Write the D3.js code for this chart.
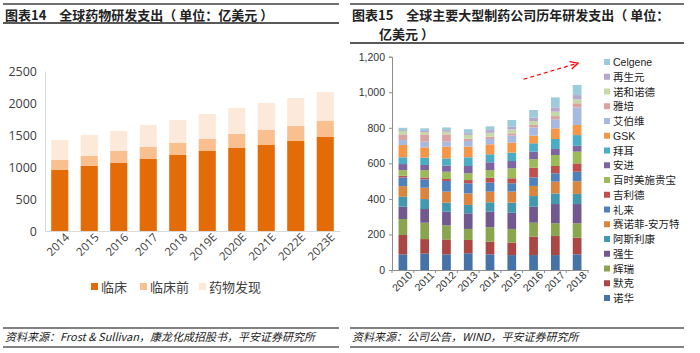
<!DOCTYPE html>
<html lang="zh">
<head>
<meta charset="UTF-8">
<title>全球药物研发支出</title>
<script src="https://d3js.org/d3.v7.min.js"></script>
<style>
  body { margin: 0; background: #fff; }
  svg { display: block; font-family: "Liberation Sans", Arial, "Noto Sans CJK SC", sans-serif; }
</style>
</head>
<body>
<div id="chart"></div>
<script>
// ---- left chart data (亿美元)
const yearsL = ["2014", "2015", "2016", "2017", "2018", "2019E", "2020E", "2021E", "2022E", "2023E"];
const seriesL = ["临床", "临床前", "药物发现"];
const clinical   = [953, 1016, 1063, 1125, 1188, 1250, 1297, 1344, 1406, 1469];
const preclinical = [156, 156, 187, 188, 187, 188, 219, 234, 235, 250];
const discovery  = [313, 328, 312, 343, 359, 390, 406, 422, 437, 453];
const ticksL = [0, 500, 1000, 1500, 2000, 2500];
const colorsL = ["#e36c09", "#f9bf8f", "#fde9d9"];

// ---- right chart data (亿美元), bottom of stack first
const yearsR = ["2010", "2011", "2012", "2013", "2014", "2015", "2016", "2017", "2018"];
const companies = ["诺华", "默克", "辉瑞", "强生", "阿斯利康", "赛诺菲-安万特", "礼来", "吉利德",
  "百时美施贵宝", "安进", "拜耳", "GSK", "艾伯维", "雅培", "诺和诺德", "再生元", "Celgene"];
const novartis  = [88, 92, 88, 94, 88, 84, 84, 84, 88];
const merck     = [109, 82, 84, 75, 71, 70, 104, 107, 94];
const pfizer    = [90, 92, 79, 62, 81, 77, 78, 72, 81];
const jnj       = [69, 77, 77, 88, 88, 91, 90, 108, 108];
const astra     = [56, 56, 51, 47, 53, 57, 60, 60, 57];
const sanofi    = [60, 64, 62, 65, 60, 62, 57, 66, 71];
const lilly     = [49, 47, 60, 57, 50, 47, 48, 47, 54];
const gilead    = [9, 11, 11, 18, 28, 28, 55, 41, 47];
const bms       = [32, 41, 41, 38, 43, 56, 48, 62, 66];
const amgen     = [34, 29, 34, 41, 44, 41, 42, 34, 33];
const bayer     = [38, 41, 41, 49, 45, 47, 47, 56, 60];
const gsk       = [69, 58, 66, 60, 56, 56, 43, 60, 57];
const abbvie    = [28, 32, 28, 32, 30, 40, 46, 51, 99];
const abbott    = [32, 41, 41, 13, 13, 13, 14, 18, 23];
const novo      = [19, 13, 15, 21, 22, 22, 22, 25, 22];
const regeneron = [5, 6, 9, 10, 15, 15, 19, 24, 24];
const celgene   = [13, 15, 15, 22, 21, 38, 43, 56, 57];
const seriesR = [novartis, merck, pfizer, jnj, astra, sanofi, lilly, gilead, bms, amgen,
  bayer, gsk, abbvie, abbott, novo, regeneron, celgene];
const ticksR = [0, 200, 400, 600, 800, 1000, 1200];
const colorsR = ["#4572a7", "#aa4643", "#89a54e", "#71588f", "#4198af", "#db843d",
  "#4f81bd", "#c0504d", "#9bbb59", "#8064a2", "#4bacc6", "#f79646",
  "#a7b9e0", "#d9a3a1", "#c5d9a8", "#b6a8cc", "#9ccbda"];

const svg = d3.select("#chart").append("svg").attr("width", 700).attr("height", 353);

// ---- frame: titles and source lines
function frame(x0, x1, titleLines, yBottom, source) {
  svg.append("line").attr("x1", x0).attr("x2", x1).attr("y1", 4).attr("y2", 4)
    .attr("stroke", "#404040").attr("stroke-width", 1.5);
  titleLines.forEach((t, i) => {
    svg.append("text").attr("x", t.x).attr("y", 19.5 + i * 19)
      .attr("font-size", 13).attr("font-weight", "bold").attr("fill", "#222")
      .attr("font-family", "'Noto Sans CJK SC', sans-serif")
      .text(t.s);
  });
  svg.append("line").attr("x1", x0).attr("x2", x1).attr("y1", yBottom).attr("y2", yBottom)
    .attr("stroke", "#595959").attr("stroke-width", 2);
  svg.append("line").attr("x1", x0).attr("x2", x1).attr("y1", 328).attr("y2", 328)
    .attr("stroke", "#595959").attr("stroke-width", 1.5);
  svg.append("text").attr("x", x0 + 2).attr("y", 341)
    .attr("font-size", 11).attr("font-style", "italic").attr("fill", "#222")
    .attr("font-family", "'Liberation Sans Narrow', 'Noto Sans CJK SC', sans-serif")
    .text(source);
  svg.append("line").attr("x1", x0).attr("x2", x1).attr("y1", 347).attr("y2", 347)
    .attr("stroke", "#595959").attr("stroke-width", 1.5);
}
frame(3, 339, [{ x: 5, s: "图表14\u3000全球药物研发支出（ 单位：亿美元 ）" }], 23,
  "资料来源：Frost & Sullivan，康龙化成招股书，平安证券研究所");
frame(350, 684, [{ x: 352, s: "图表15\u3000全球主要大型制药公司历年研发支出（ 单位：" },
  { x: 379, s: "亿美元 ）" }], 43, "资料来源：公司公告，WIND，平安证券研究所");

// ---- left chart
const xL = d3.scaleBand().domain(yearsL).range([45, 340]).paddingInner(0.42).paddingOuter(0.21);
const yL = d3.scaleLinear().domain([0, 2500]).range([231, 71]);
const stackL = d3.stack().keys([0, 1, 2]).value((d, k) => d[k])(
  yearsL.map((y, i) => [clinical[i], preclinical[i], discovery[i]]));

const gL = svg.append("g");
stackL.forEach((layer, k) => {
  gL.selectAll(null).data(layer).join("rect")
    .attr("x", (d, i) => xL(yearsL[i])).attr("width", xL.bandwidth())
    .attr("y", d => yL(d[1])).attr("height", d => yL(d[0]) - yL(d[1]))
    .attr("fill", colorsL[k]);
});
const axLy = gL.append("g").attr("transform", "translate(45,0)")
  .call(d3.axisLeft(yL).tickValues(ticksL).tickSize(0).tickPadding(8).tickFormat(d3.format("d")));
axLy.select(".domain").attr("stroke", "#d9d9d9");
axLy.selectAll("text").attr("font-size", 12.5).attr("fill", "#404040")
  .attr("font-family", "'Open Sans', sans-serif");
const axLx = gL.append("g").attr("transform", "translate(0,231)")
  .call(d3.axisBottom(xL).tickSize(0).tickPadding(6));
axLx.select(".domain").attr("stroke", "#d9d9d9");
axLx.selectAll("text").attr("font-size", 11.5).attr("fill", "#404040")
  .attr("font-family", "'Open Sans', sans-serif")
  .attr("text-anchor", "end").attr("dx", "0.2em").attr("dy", "0.55em")
  .attr("transform", "rotate(-45)");

const legL = svg.append("g").attr("font-family", "'Noto Sans CJK SC', serif").attr("font-size", 13);
const legLx = [91, 140, 199];
seriesL.forEach((s, k) => {
  legL.append("rect").attr("x", legLx[k]).attr("y", 283).attr("width", 7).attr("height", 7).attr("fill", colorsL[k]);
  legL.append("text").attr("x", legLx[k] + 10).attr("y", 291.5).attr("fill", "#404040").text(s);
});

// ---- right chart
const xR = d3.scaleBand().domain(yearsR).range([392, 588]).paddingInner(0.6).paddingOuter(0.3);
const yR = d3.scaleLinear().domain([0, 1200]).range([270, 56.7]);
const stackR = d3.stack().keys(d3.range(companies.length)).value((d, k) => d[k])(
  yearsR.map((y, i) => seriesR.map(s => s[i])));

const gR = svg.append("g");
stackR.forEach((layer, k) => {
  gR.selectAll(null).data(layer).join("rect")
    .attr("x", (d, i) => xR(yearsR[i])).attr("width", xR.bandwidth())
    .attr("y", d => yR(d[1])).attr("height", d => yR(d[0]) - yR(d[1]))
    .attr("fill", colorsR[k]);
});
const axRy = gR.append("g").attr("transform", "translate(392,0)")
  .call(d3.axisLeft(yR).tickValues(ticksR).tickSize(3).tickPadding(4).tickFormat(d3.format(",")));
axRy.selectAll(".domain, line").attr("stroke", "#8c8c8c");
axRy.selectAll("text").attr("font-size", 10.5).attr("fill", "#333");
const axRx = gR.append("g").attr("transform", "translate(0,270)")
  .call(d3.axisBottom(xR).tickSize(0).tickPadding(5));
axRx.select(".domain").attr("stroke", "#8c8c8c");
// category separator ticks
axRx.selectAll(null).data(d3.range(yearsR.length + 1)).join("line")
  .attr("x1", i => 392 + i * xR.step()).attr("x2", i => 392 + i * xR.step())
  .attr("y1", 0).attr("y2", 3).attr("stroke", "#8c8c8c");
axRx.selectAll("text").attr("font-size", 10.5).attr("fill", "#333")
  .attr("text-anchor", "end").attr("dx", "0.3em").attr("dy", "0.6em")
  .attr("transform", "rotate(-45)");

// legend, top item = last series
const legR = svg.append("g").attr("font-size", 10.5).attr("font-family", "'Liberation Sans', 'Noto Sans CJK SC', sans-serif");
const legOrder = d3.range(companies.length).reverse();
legOrder.forEach((k, j) => {
  const y = 62 + j * 14.75;
  legR.append("rect").attr("x", 604).attr("y", y - 3).attr("width", 6).attr("height", 6).attr("fill", colorsR[k]);
  legR.append("text").attr("x", 613).attr("y", y + 4).attr("fill", "#222").text(companies[k]);
});

// red dashed trend arrow
svg.append("defs").append("marker").attr("id", "ah").attr("viewBox", "0 0 10 10")
  .attr("refX", 8).attr("refY", 5).attr("markerWidth", 8).attr("markerHeight", 8).attr("orient", "auto")
  .append("path").attr("d", "M1,1 L9,5 L1,9").attr("fill", "none").attr("stroke", "#ff0000").attr("stroke-width", 1.4);
svg.append("line")
  .attr("x1", xR("2016") + xR.bandwidth() / 2 - 10).attr("y1", yR(1000) - 13)
  .attr("x2", xR("2018") + xR.bandwidth() / 2).attr("y2", yR(1140) - 4)
  .attr("stroke", "#ff0000").attr("stroke-width", 1.2).attr("stroke-dasharray", "4,3")
  .attr("marker-end", "url(#ah)");
</script>
</body>
</html>
